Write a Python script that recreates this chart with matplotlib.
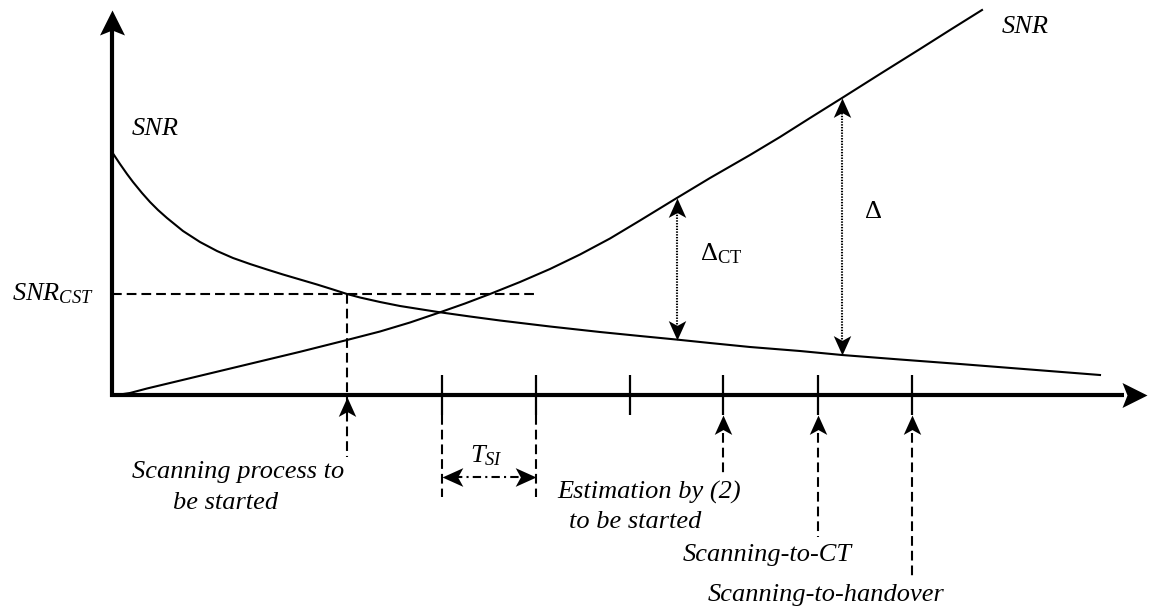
import numpy as np
import matplotlib
matplotlib.use("Agg")
import matplotlib.pyplot as plt
from matplotlib.path import Path
from matplotlib.markers import MarkerStyle
from matplotlib.transforms import Affine2D

plt.rcParams['font.family'] = ['Liberation Serif', 'DejaVu Serif']
plt.rcParams['mathtext.fontset'] = 'custom'
plt.rcParams['mathtext.rm'] = 'Liberation Serif'
plt.rcParams['mathtext.it'] = 'Liberation Serif:italic'
plt.rcParams['lines.scale_dashes'] = False

# SNR of the serving cell (falling) and of the target cell (rising)
t_down = [0.00, 0.08, 0.15, 0.21, 0.30, 0.38, 0.46, 0.55, 0.71, 0.88, 1.05,
          1.21, 1.38, 1.55, 1.71, 1.88, 2.05, 2.21, 2.35, 2.48, 2.68, 2.88,
          3.26, 3.58, 3.88, 4.38, 4.88, 5.28, 5.64, 5.98, 6.38, 6.88, 7.30,
          7.88, 8.48, 9.18, 9.88]
snr_down = [2.43, 2.31, 2.21, 2.13, 2.02, 1.93, 1.85, 1.77, 1.64, 1.53, 1.44,
            1.37, 1.31, 1.255, 1.205, 1.155, 1.105, 1.055, 1.01, 0.975, 0.93, 0.89,
            0.83, 0.785, 0.745, 0.685, 0.63, 0.59, 0.555, 0.52, 0.48, 0.44, 0.40,
            0.355, 0.31, 0.255, 0.20]
t_up = [0.00, 0.08, 0.18, 0.35, 0.68, 1.08, 1.48, 1.88, 2.35, 2.68, 2.98,
        3.26, 3.53, 3.78, 4.08, 4.38, 4.68, 4.98, 5.28, 5.64, 5.98, 6.38,
        6.68, 6.98, 7.30, 7.68, 8.08, 8.38, 8.70]
snr_up = [0.00, 0.005, 0.02, 0.065, 0.144, 0.24, 0.336, 0.432, 0.55, 0.635, 0.725,
          0.82, 0.915, 1.01, 1.13, 1.26, 1.405, 1.565, 1.745, 1.965, 2.17, 2.40,
          2.58, 2.77, 2.97, 3.21, 3.46, 3.65, 3.85]

snr_cst = 1.01
t_scan = 2.35
t_ticks = [3.30, 4.24, 5.18]
t_events = [6.11, 7.06, 8.00]
event_ends = [-0.82, -1.42, -1.83]
t_ct = 5.65
t_delta = 7.30


def head(angle, notch=0.75, half=0.45):
    # concave arrow head, tip at the marker position, pointing up before rotation
    p = Path([(0, 0), (-half, -1), (0, -notch), (half, -1), (0, 0)],
             [Path.MOVETO, Path.LINETO, Path.LINETO, Path.LINETO, Path.CLOSEPOLY])
    return MarkerStyle(p, transform=Affine2D().rotate_deg(angle))


fig = plt.figure(figsize=(11.49, 6.10), dpi=100)
ax = fig.add_axes([0, 0, 1, 1])
ax.set_xlim(-1.12, 10.37)
ax.set_ylim(-2.15, 3.95)
ax.axis('off')

k = 'black'
# axes
ax.plot([0, 0], [-0.02, 3.68], color=k, lw=3, solid_capstyle='butt')
ax.plot([-0.02, 10.12], [0, 0], color=k, lw=3, solid_capstyle='butt')
ax.plot(0, 3.85, marker=head(0, 0.8, 0.5), ms=36, color=k, mew=0)
ax.plot(10.35, 0, marker=head(-90, 0.8, 0.5), ms=36, color=k, mew=0)

# curves
ax.plot(t_down, snr_down, color=k, lw=1.5)
ax.plot(t_up, snr_up, color=k, lw=1.5)

dash = dict(color=k, lw=1.5, linestyle=(0, (7, 3.6)))
# SNR_CST threshold and scanning start
ax.plot([0, 4.25], [snr_cst, snr_cst], **dash)
ax.plot([t_scan, t_scan], [snr_cst, -0.62], **dash)
ax.plot(t_scan, -0.02, marker=head(0), ms=28, color=k, mew=0)

# ticks on the time axis
ax.vlines(t_ticks + t_events, -0.20, 0.20, color=k, lw=1.6)
for t in t_ticks[:2]:
    ax.plot([t, t], [-0.20, -1.02], **dash)
ax.plot([t_ticks[0] + 0.12, t_ticks[1] - 0.12], [-0.82, -0.82], color=k, lw=1.5,
        linestyle=(0, (6, 3, 1.5, 3)))
ax.plot(t_ticks[0], -0.82, marker=head(90), ms=30, color=k, mew=0)
ax.plot(t_ticks[1], -0.82, marker=head(-90), ms=30, color=k, mew=0)

for t, e in zip(t_events, event_ends):
    ax.plot([t, t], [-0.38, e], **dash)
    ax.plot(t, -0.20, marker=head(0), ms=28, color=k, mew=0)

# margin arrows between the two curves
for t in [t_ct, t_delta]:
    lo = np.interp(t, t_down, snr_down)
    hi = np.interp(t, t_up, snr_up)
    ax.plot([t, t], [lo + 0.1, hi - 0.1], color=k, lw=1.5, linestyle=(0, (1, 1)))
    ax.plot(t, hi, marker=head(0), ms=28, color=k, mew=0)
    ax.plot(t, lo, marker=head(180), ms=28, color=k, mew=0)

fs = 19
it = dict(fontsize=fs, style='italic', va='baseline')
ax.text(0.43, 2.60, 'SNR', ha='center', **it)
ax.text(9.13, 3.62, 'SNR', ha='center', **it)
ax.text(-1.00, 0.95, r'$SNR_{CST}$', ha='left', fontsize=fs, va='baseline')
ax.text(3.58, -0.67, r'$T_{SI}$', ha='left', fontsize=fs, va='baseline')
ax.text(5.88, 1.35, r'$\mathrm{\Delta}_{\mathrm{CT}}$', ha='left', fontsize=fs, va='baseline')
ax.text(7.53, 1.77, 'Δ', ha='left', fontsize=fs, va='baseline')

ax.text(1.26, -0.83, 'Scanning process to', ha='center', **it)
ax.text(1.14, -1.14, 'be started', ha='center', **it)
ax.text(5.37, -1.04, 'Estimation by (2)', ha='center', **it)
ax.text(5.23, -1.33, 'to be started', ha='center', **it)
ax.text(6.55, -1.66, 'Scanning-to-CT', ha='center', **it)
ax.text(7.14, -2.06, 'Scanning-to-handover', ha='center', **it)

fig.savefig('out.png', dpi=100)
